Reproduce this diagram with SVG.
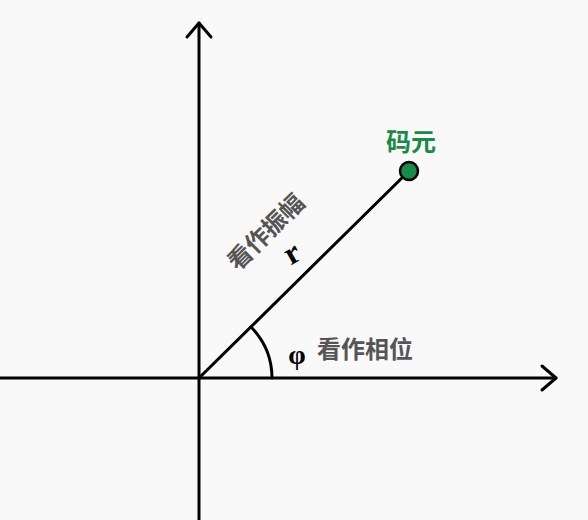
<svg xmlns="http://www.w3.org/2000/svg" width="588" height="520" viewBox="0 0 588 520">
<style>
.ax{stroke:#000;stroke-width:3;fill:none;stroke-linecap:round;stroke-linejoin:round}
.lbl{font-family:"Noto Sans CJK SC","Noto Sans",sans-serif;font-weight:bold;fill:#555}
.sym{font-family:"Liberation Serif",serif;font-weight:bold;fill:#000}
</style>
<rect width="588" height="520" fill="#f9f9f9"/>
<g id="connectors">
<line class="ax" x1="0" y1="378" x2="556" y2="378"/>
<polyline class="ax" points="542,366 556,378 542,390"/>
<line class="ax" x1="199" y1="520" x2="199" y2="23"/>
<polyline class="ax" points="187,37 199,23 211,37"/>
<line class="ax" x1="199" y1="378" x2="409" y2="171"/>
<path class="ax" d="M272,378 A73,73 0 0 0 251,327"/>
</g>
<g id="symbol">
<circle cx="409" cy="171" r="9" fill="#1a8a4a" stroke="#000" stroke-width="2.5"/>
<text x="411" y="151" text-anchor="middle" font-family="Noto Sans CJK SC,sans-serif" font-weight="bold" font-size="25" fill="#1a8a4a">码元</text>
</g>
<g id="amplitude">
<text class="lbl" font-size="24" text-anchor="middle" transform="translate(272,238) rotate(-44.6)">看作振幅</text>
<text class="sym" font-size="32" text-anchor="middle" transform="translate(297,262) rotate(-30)">r</text>
</g>
<g id="phase">
<text class="sym" font-size="28" x="297" y="364" text-anchor="middle">φ</text>
<text class="lbl" font-size="24" x="317" y="358">看作相位</text>
</g>
</svg>
